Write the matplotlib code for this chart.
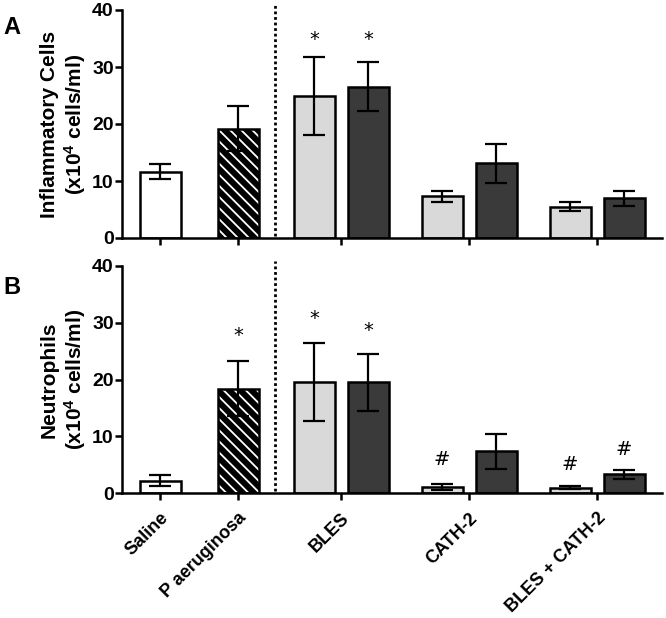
import numpy as np
import matplotlib.pyplot as plt

plt.rcParams['font.family'] = ['Liberation Sans', 'DejaVu Sans']
plt.rcParams['mathtext.fontset'] = 'custom'
plt.rcParams['mathtext.rm'] = 'Liberation Sans:bold'
plt.rcParams['mathtext.bf'] = 'Liberation Sans:bold'
plt.rcParams['mathtext.default'] = 'bf'
plt.rcParams['hatch.linewidth'] = 1.3

# data (x10^4 cells/ml), order: Saline, P aeruginosa, BLES(light, dark), CATH-2(light, dark), BLES+CATH-2(light, dark)
groups = ["Saline", "P aeruginosa", "BLES", "CATH-2", "BLES + CATH-2"]
infl_mean = [11.6, 19.2, 24.9, 26.5, 7.3, 13.1, 5.5, 7.0]
infl_sem = [1.3, 3.9, 6.8, 4.3, 0.95, 3.4, 0.8, 1.3]
neut_mean = [2.2, 18.4, 19.6, 19.5, 1.06, 7.35, 0.95, 3.3]
neut_sem = [0.9, 4.9, 6.9, 5.0, 0.5, 3.05, 0.2, 0.76]
infl_marks = ["", "", "*", "*", "", "", "", ""]
neut_marks = ["", "*", "*", "*", "#", "", "#", "#"]

# layout (axis units)
tick_pos = [38, 116, 219, 347, 475]
off = 27
bar_x = [tick_pos[0], tick_pos[1],
         tick_pos[2] - off, tick_pos[2] + off,
         tick_pos[3] - off, tick_pos[3] + off,
         tick_pos[4] - off, tick_pos[4] + off]
width = 41
light = '#d9d9d9'
dark = '#3a3a3a'
faces = ['white', 'black', light, dark, light, dark, light, dark]
sep_x = 153
lw = 1.8

fig = plt.figure(figsize=(6.66, 6.18), dpi=100)
axA = fig.add_axes([122 / 666, 1 - 238 / 618, 540 / 666, 228 / 618])
axB = fig.add_axes([122 / 666, 1 - 493 / 618, 540 / 666, 227 / 618])


def draw(ax, means, sems, marks, mark_y, ylabel, show_labels):
    for i, (x, m, s) in enumerate(zip(bar_x, means, sems)):
        if i == 1:
            ax.bar(x, m, width, color='black', edgecolor='white', hatch='\\\\\\', linewidth=0, zorder=2)
            ax.bar(x, m, width, fill=False, edgecolor='black', linewidth=lw, zorder=3)
        else:
            ax.bar(x, m, width, color=faces[i], edgecolor='black', linewidth=lw, zorder=2)
        ax.errorbar(x, m, yerr=s, fmt='none', ecolor='black', elinewidth=1.6,
                    capsize=8, capthick=1.6, zorder=4)
        if marks[i]:
            ax.text(x, mark_y[i], marks[i], ha='center', va='center', fontsize=14,
                    fontweight='normal', family='DejaVu Sans')
    ax.plot([sep_x, sep_x], [0.3, 40.8], color='black', linestyle=(0, (1, 1)),
            linewidth=2.0, clip_on=False, zorder=1)
    ax.set_xlim(0, 540)
    ax.set_ylim(0, 40)
    ax.set_yticks([0, 10, 20, 30, 40])
    ax.set_xticks(tick_pos)
    if show_labels:
        ax.set_xticklabels(groups, rotation=45, ha='right', rotation_mode='anchor',
                           fontsize=13, fontweight='bold')
    else:
        ax.set_xticklabels([])
    for lab in ax.get_yticklabels():
        lab.set_fontweight('bold')
        lab.set_fontsize(14)
    ax.tick_params(axis='both', direction='out', length=5, width=lw)
    ax.tick_params(axis='y', pad=1)
    ax.tick_params(axis='x', pad=7)
    ax.spines['top'].set_visible(False)
    ax.spines['right'].set_visible(False)
    ax.spines['left'].set_linewidth(lw)
    ax.spines['bottom'].set_linewidth(lw)
    ax.set_ylabel(ylabel, fontsize=15, fontweight='bold', labelpad=3, linespacing=1.15)


mark_a = [0, 0, 34.9, 34.9, 0, 0, 0, 0]
mark_b = [0, 27.8, 30.8, 28.7, 5.9, 0, 5.1, 7.65]
draw(axA, infl_mean, infl_sem, infl_marks, mark_a, "Inflammatory Cells\n(x10$^4$ cells/ml)", False)
draw(axB, neut_mean, neut_sem, neut_marks, mark_b, "Neutrophils\n(x10$^4$ cells/ml)", True)

fig.text(12 / 666, 1 - 28 / 618, "A", fontsize=17, fontweight='bold', ha='center', va='center')
fig.text(12 / 666, 1 - 288 / 618, "B", fontsize=17, fontweight='bold', ha='center', va='center')

fig.savefig('out.png', dpi=100)
